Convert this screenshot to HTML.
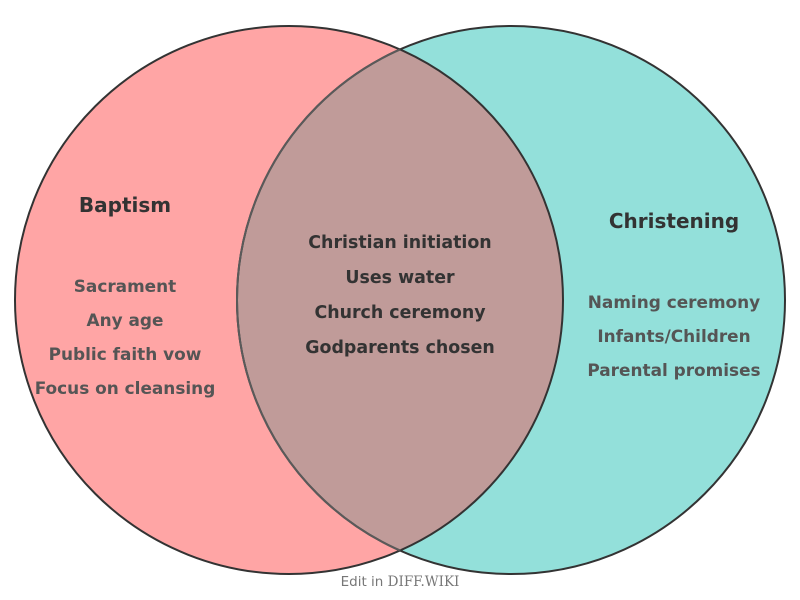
<!DOCTYPE html>
<html><head><meta charset="utf-8"><style>
html,body{margin:0;padding:0;background:#fff;width:800px;height:600px;overflow:hidden}
svg text{font-family:"DejaVu Sans","Liberation Sans",sans-serif;font-weight:bold}
</style></head><body>
<svg width="800" height="600" xmlns="http://www.w3.org/2000/svg">
<defs><clipPath id="cl"><circle cx="289" cy="300" r="274"/></clipPath></defs>
<circle cx="289" cy="300" r="274" fill="#ffa5a5"/>
<circle cx="511" cy="300" r="274" fill="#93e0da"/>
<circle cx="511" cy="300" r="274" fill="#c09b99" clip-path="url(#cl)"/>
<circle cx="289" cy="300" r="274" fill="none" stroke="#333" stroke-width="2"/>
<circle cx="511" cy="300" r="274" fill="none" stroke="#333" stroke-width="2"/>
<circle cx="511" cy="300" r="274" fill="none" stroke="#5a5a5a" stroke-width="2" clip-path="url(#cl)"/>
<g text-anchor="middle">
<text x="125" y="212" font-size="20" fill="#333">Baptism</text>
<text x="125" y="292" font-size="16.9" fill="#555">Sacrament</text>
<text x="125" y="326" font-size="16.9" fill="#555">Any age</text>
<text x="125" y="360" font-size="16.9" fill="#555">Public faith vow</text>
<text x="125" y="394" font-size="16.9" fill="#555">Focus on cleansing</text>
<text x="674" y="228" font-size="20" fill="#333">Christening</text>
<text x="674" y="308" font-size="16.9" fill="#555">Naming ceremony</text>
<text x="674" y="342" font-size="16.9" fill="#555">Infants/Children</text>
<text x="674" y="376" font-size="16.9" fill="#555">Parental promises</text>
<text x="400" y="248" font-size="17.4" fill="#333">Christian initiation</text>
<text x="400" y="283" font-size="17.4" fill="#333">Uses water</text>
<text x="400" y="318" font-size="17.4" fill="#333">Church ceremony</text>
<text x="400" y="353" font-size="17.4" fill="#333">Godparents chosen</text>
<text x="400" y="586" font-size="13.5" fill="#777" style="font-family:'DejaVu Sans',sans-serif;font-weight:normal">Edit in <tspan style="font-family:'DejaVu Serif','Liberation Serif',serif">DIFF.WIKI</tspan></text>
</g>
</svg>
</body></html>
